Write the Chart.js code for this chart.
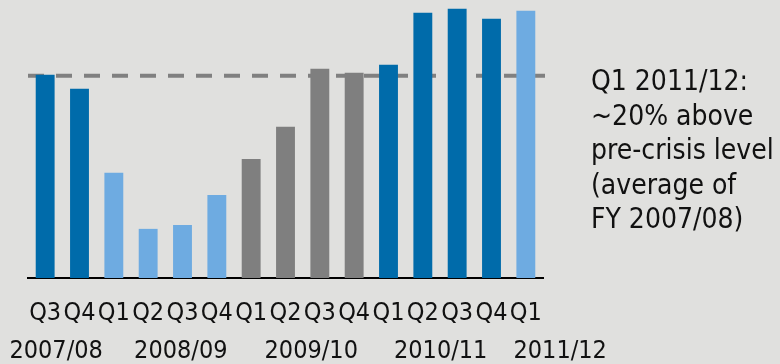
<!DOCTYPE html>
<html>
<head>
<meta charset="utf-8">
<script src="https://cdn.jsdelivr.net/npm/chart.js@4"></script>
<style>
  html, body { margin: 0; padding: 0; background: #e0e0de; }
  #wrap { width: 780px; height: 364px; position: relative; }
</style>
</head>
<body>
<div id="wrap"><canvas id="chart"></canvas></div>
<script>
// Quarter labels, one per bar.
var quarters = ['Q3', 'Q4', 'Q1', 'Q2', 'Q3', 'Q4', 'Q1', 'Q2', 'Q3', 'Q4', 'Q1', 'Q2', 'Q3', 'Q4', 'Q1'];

// Index values (average of FY 2007/08 = 100).
var values = [100.5, 93.6, 52.0, 24.3, 26.2, 41.1, 58.9, 74.8, 103.5, 101.5, 105.4, 131.2, 133.2, 128.2, 132.2];

// Colour group of each bar: 'dark', 'light' or 'grey'.
var groups = ['dark', 'dark', 'light', 'light', 'light', 'light', 'grey', 'grey', 'grey', 'grey', 'dark', 'dark', 'dark', 'dark', 'light'];

// Fiscal year labels and the category index they sit under.
var years = ['2007/08', '2008/09', '2009/10', '2010/11', '2011/12'];
var yearAt = [0.32, 3.95, 7.75, 11.52, 15.0];

// Pre-crisis level (dashed line).
var preCrisis = 100;

var note = ['Q1 2011/12:', '~20% above', 'pre-crisis level', '(average of', 'FY 2007/08)'];

var palette = { dark: '#006baa', light: '#6eabe1', grey: '#7f7f7f' };
var condensed = '"DejaVu Sans Condensed", "DejaVu Sans", sans-serif';

var extras = {
    id: 'extras',
    // dashed line sits behind the bars
    beforeDatasetsDraw: function (chart) {
        var ctx = chart.ctx, xs = chart.scales.x;
        var y = chart.scales.y.getPixelForValue(preCrisis);
        ctx.save();
        ctx.beginPath();
        ctx.rect(0, 0, xs.right + 2, chart.height);
        ctx.clip();
        ctx.strokeStyle = '#808080';
        ctx.lineWidth = 4;
        ctx.setLineDash([16, 12]);
        ctx.beginPath();
        ctx.moveTo(xs.left, y);
        ctx.lineTo(xs.right + 2, y);
        ctx.stroke();
        ctx.restore();
    },
    afterDraw: function (chart) {
        var ctx = chart.ctx, x = chart.scales.x;
        ctx.save();
        ctx.fillStyle = '#111';
        ctx.font = '25px ' + condensed;
        ctx.textAlign = 'center';
        ctx.textBaseline = 'middle';
        years.forEach(function (label, i) {
            ctx.fillText(label, x.getPixelForValue(yearAt[i]), 351);
        });
        ctx.font = '28px ' + condensed;
        ctx.textAlign = 'left';
        ctx.textBaseline = 'alphabetic';
        note.forEach(function (line, i) {
            ctx.fillText(line, 591, 90 + i * 34.5);
        });
        ctx.restore();
    }
};

new Chart(document.getElementById('chart'), {
    type: 'bar',
    data: {
        labels: quarters,
        datasets: [{
            data: values,
            backgroundColor: groups.map(function (g) { return palette[g]; }),
            borderWidth: 0,
            categoryPercentage: 1,
            barPercentage: 0.55
        }]
    },
    options: {
        responsive: true,
        maintainAspectRatio: false,
        animation: false,
        layout: { padding: { left: 28, right: 237, top: 5, bottom: 0 } },
        plugins: { legend: { display: false }, tooltip: { enabled: false } },
        scales: {
            x: {
                grid: { display: false },
                border: { display: true, color: '#000', width: 2 },
                ticks: {
                    color: '#111',
                    font: { family: condensed, size: 25 },
                    padding: 12,
                    autoSkip: false,
                    maxRotation: 0
                },
                afterFit: function (scale) { scale.height = 86; }
            },
            y: {
                display: false,
                min: 0,
                max: 135
            }
        }
    },
    plugins: [extras]
});
</script>
</body>
</html>
